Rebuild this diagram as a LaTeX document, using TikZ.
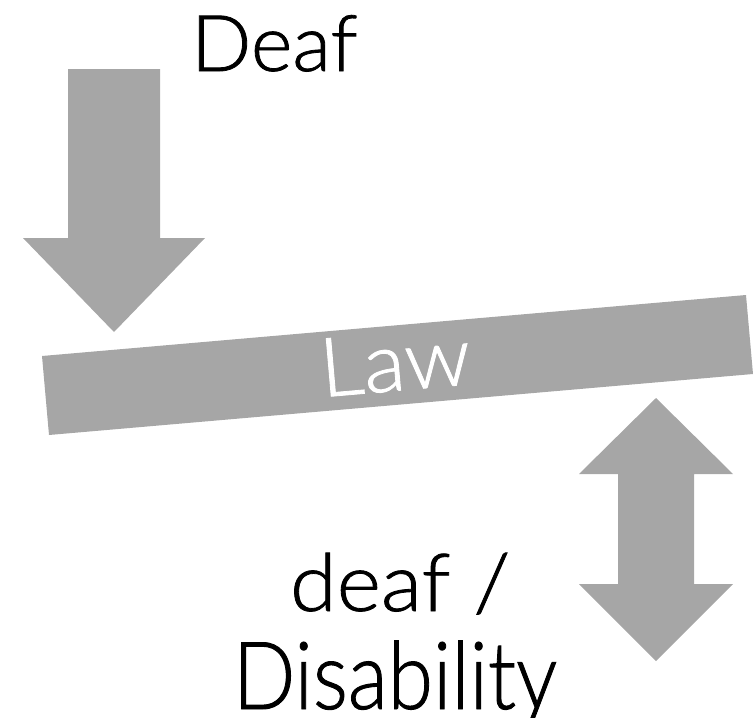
\documentclass[tikz,border=0pt]{standalone}
\usepackage{fontspec}
\setmainfont{Lato}[UprightFont={* Light}, FakeBold=1]
\definecolor{shapegray}{RGB}{166,166,166}
\tikzset{
  graybox/.style={fill=shapegray, draw=none},
  bigtext/.style={inner sep=0pt, outer sep=0pt, text=black},
}
\begin{document}
\begin{tikzpicture}[x=1pt, y=-1pt]
\path[use as bounding box] (0,0) rectangle (753,718);
% down arrow
\fill[graybox] (68,69) -- (160,69) -- (160,238) -- (205,238) -- (114,332) -- (23,238) -- (68,238) -- cycle;
% law bar
\fill[graybox] (42,356) -- (746,295) -- (753,374) -- (49,435) -- cycle;
% double arrow
\fill[graybox] (656,398) -- (733,474) -- (694,474) -- (694,584) -- (733,584) -- (656,661) -- (579,584) -- (618,584) -- (618,474) -- (579,474) -- cycle;
% texts
\node[bigtext, anchor=base west, font=\fontsize{78}{90}\selectfont] (deaf) at (191,71) {\scalebox{1.02}[1]{Deaf}};
\node[bigtext, text=white, rotate=4.95, font=\fontsize{82}{95}\selectfont] (law) at (395,362) {\scalebox{1.05}[1]{Law}};
\node[bigtext, anchor=base west, font=\fontsize{80}{95}\selectfont] (deaflc) at (290,611) {\scalebox{1.06}[1]{deaf /}};
\node[bigtext, anchor=base west, font=\fontsize{94}{110}\selectfont] (dis) at (233,709) {\scalebox{0.875}[1]{Disability}};
\end{tikzpicture}
\end{document}
